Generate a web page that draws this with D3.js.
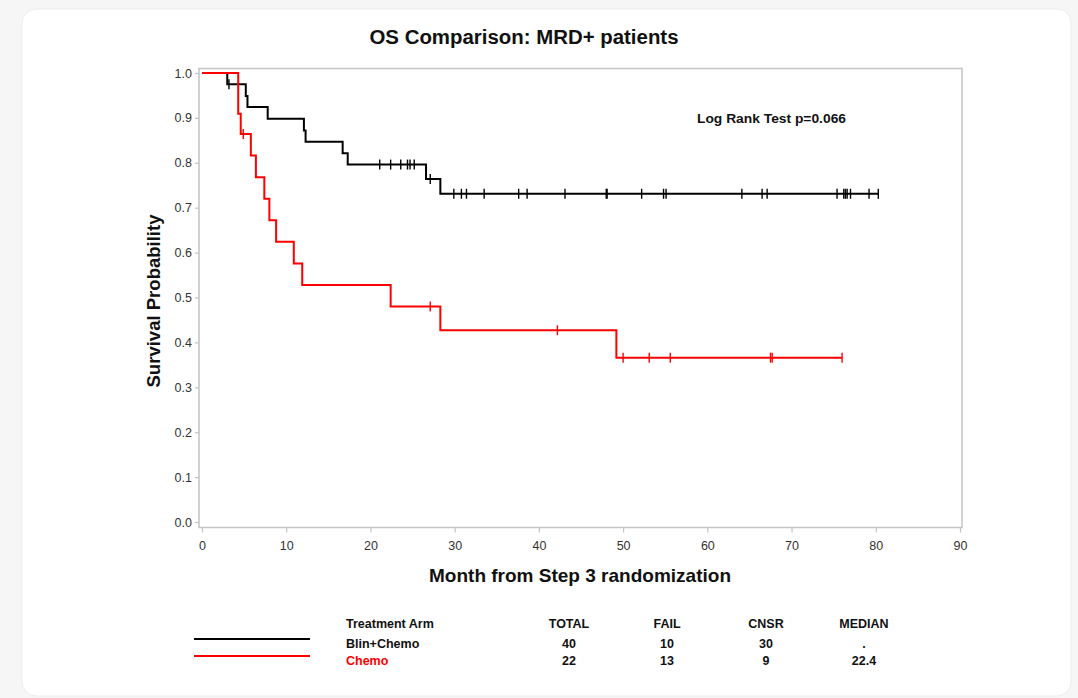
<!DOCTYPE html>
<html>
<head>
<meta charset="utf-8">
<script src="https://cdn.jsdelivr.net/npm/d3@7"></script>
<style>
  html, body { margin: 0; padding: 0; background: #f6f6f6; }
  svg { display: block; }
  text { font-family: "Liberation Sans", Arial, sans-serif; }
</style>
</head>
<body>
<svg id="chart" width="1078" height="698"></svg>
<script>
// ---- Data ----
const arms = ["Blin+Chemo", "Chemo"];
const armColors = ["#000000", "#ff0000"];

// Kaplan-Meier step points: time (months) where survival changes, and new level
const blinTimes = [0, 3.0, 5.2, 5.4, 7.8, 12.1, 12.3, 16.7, 17.3, 26.6, 28.3, 80.3];
const blinSurv  = [1.0, 0.975, 0.949, 0.924, 0.898, 0.872, 0.847, 0.821, 0.796, 0.764, 0.731, 0.731];
const blinCensor = [3.2, 21.1, 22.4, 23.6, 24.4, 24.7, 25.2, 27.1, 29.9, 30.8, 31.4, 33.5, 37.6, 38.6,
                    43.1, 48.0, 48.1, 52.2, 54.8, 55.1, 64.1, 66.5, 67.1, 75.4, 76.2, 76.4, 76.6, 77.0, 79.2, 80.3];

const chemoTimes = [0, 4.3, 4.6, 5.8, 6.4, 7.4, 8.0, 8.8, 10.9, 11.9, 22.4, 28.3, 49.2, 76.0];
const chemoSurv  = [1.0, 0.909, 0.864, 0.816, 0.768, 0.720, 0.672, 0.624, 0.576, 0.528, 0.480, 0.427, 0.366, 0.366];
const chemoCensor = [4.9, 27.1, 42.2, 50.0, 53.1, 55.6, 67.5, 67.7, 76.0];

const xTicks = [0, 10, 20, 30, 40, 50, 60, 70, 80, 90];
const yTicks = [0, 0.1, 0.2, 0.3, 0.4, 0.5, 0.6, 0.7, 0.8, 0.9, 1.0];

const tableHeader = ["Treatment Arm", "TOTAL", "FAIL", "CNSR", "MEDIAN"];
const tableTotal  = ["40", "22"];
const tableFail   = ["10", "13"];
const tableCnsr   = ["30", "9"];
const tableMedian = [".", "22.4"];

const titleText = "OS Comparison: MRD+ patients";
const xLabel = "Month from Step 3 randomization";
const yLabel = "Survival Probability";
const testText = "Log Rank Test p=0.066";

// ---- Drawing ----
const svg = d3.select("#chart");

// card
svg.append("rect").attr("x", 22).attr("y", 9).attr("width", 1049).attr("height", 687)
  .attr("rx", 14).attr("fill", "#ffffff").attr("stroke", "#ececec");

const x = d3.scaleLinear().domain([0, 90]).range([202, 960]);
const y = d3.scaleLinear().domain([0, 1]).range([522, 73]);

const frame = {l: 199, r: 962, t: 68.5, b: 527.5};
const gridColor = "#c4c4c4";

// frame
svg.append("rect").attr("x", frame.l).attr("y", frame.t)
  .attr("width", frame.r - frame.l).attr("height", frame.b - frame.t)
  .attr("fill", "none").attr("stroke", gridColor).attr("stroke-width", 1.5);

// y axis
const yAxis = d3.axisLeft(y).tickValues(yTicks).tickFormat(d3.format(".1f")).tickSize(4).tickPadding(3);
const gy = svg.append("g").attr("transform", `translate(${frame.l},0)`).call(yAxis);
gy.select(".domain").remove();
gy.selectAll(".tick line").attr("stroke", gridColor).attr("stroke-width", 1.2);
gy.selectAll(".tick text").attr("font-size", 12.5).attr("fill", "#333")
  .attr("font-family", "'Liberation Sans', Arial, sans-serif");

// x axis
const xAxis = d3.axisBottom(x).tickValues(xTicks).tickSize(5).tickPadding(9);
const gx = svg.append("g").attr("transform", `translate(0,${frame.b})`).call(xAxis);
gx.select(".domain").remove();
gx.selectAll(".tick line").attr("stroke", gridColor).attr("stroke-width", 1.2);
gx.selectAll(".tick text").attr("font-size", 12.5).attr("fill", "#333")
  .attr("font-family", "'Liberation Sans', Arial, sans-serif");

// curves
const line = d3.line().x(d => x(d[0])).y(d => y(d[1])).curve(d3.curveStepAfter);
function survAt(times, surv, t) {
  let s = surv[0];
  for (let i = 0; i < times.length; i++) if (times[i] <= t) s = surv[i];
  return s;
}
const series = [
  {times: blinTimes, surv: blinSurv, cens: blinCensor, color: armColors[0]},
  {times: chemoTimes, surv: chemoSurv, cens: chemoCensor, color: armColors[1]}
];
series.forEach(s => {
  const pts = s.times.map((t, i) => [t, s.surv[i]]);
  svg.append("path").datum(pts).attr("d", line)
    .attr("fill", "none").attr("stroke", s.color).attr("stroke-width", 2);
  svg.append("g").selectAll("line").data(s.cens).join("line")
    .attr("x1", d => x(d)).attr("x2", d => x(d))
    .attr("y1", d => y(survAt(s.times, s.surv, d)) - 5)
    .attr("y2", d => y(survAt(s.times, s.surv, d)) + 5)
    .attr("stroke", s.color).attr("stroke-width", 1.4);
});

// title and labels
svg.append("text").attr("x", 524).attr("y", 44).attr("text-anchor", "middle")
  .attr("font-size", 20).attr("font-weight", "bold").attr("fill", "#111")
  .attr("textLength", 309).attr("lengthAdjust", "spacingAndGlyphs").text(titleText);

svg.append("text").attr("x", 580).attr("y", 582).attr("text-anchor", "middle")
  .attr("font-size", 18.5).attr("font-weight", "bold").attr("fill", "#111")
  .attr("textLength", 302).attr("lengthAdjust", "spacingAndGlyphs").text(xLabel);

svg.append("text").attr("transform", "translate(160,301) rotate(-90)").attr("text-anchor", "middle")
  .attr("font-size", 18.5).attr("font-weight", "bold").attr("fill", "#111")
  .attr("textLength", 173).attr("lengthAdjust", "spacingAndGlyphs").text(yLabel);

svg.append("text").attr("x", 697).attr("y", 122.5)
  .attr("font-size", 12.5).attr("font-weight", "bold").attr("fill", "#111")
  .attr("textLength", 149).attr("lengthAdjust", "spacingAndGlyphs").text(testText);

// legend table
const colX = [346, 569, 667, 766, 864];
const fs = 12.5;
tableHeader.forEach((h, i) => {
  svg.append("text").attr("x", colX[i]).attr("y", 627.5)
    .attr("text-anchor", i === 0 ? "start" : "middle")
    .attr("font-size", fs).attr("font-weight", "bold").attr("fill", "#111").text(h);
});
const rowY = [647.5, 664.5];
arms.forEach((a, r) => {
  svg.append("line").attr("x1", 194).attr("x2", 310).attr("y1", rowY[r] - 8.5).attr("y2", rowY[r] - 8.5)
    .attr("stroke", armColors[r]).attr("stroke-width", 2);
  svg.append("text").attr("x", colX[0]).attr("y", rowY[r]).attr("font-size", fs).attr("font-weight", "bold")
    .attr("fill", r === 0 ? "#111" : "#ff0000").text(a);
  [tableTotal, tableFail, tableCnsr, tableMedian].forEach((col, c) => {
    svg.append("text").attr("x", colX[c + 1]).attr("y", rowY[r]).attr("text-anchor", "middle")
      .attr("font-size", fs).attr("font-weight", "bold").attr("fill", "#111").text(col[r]);
  });
});
</script>
</body>
</html>
